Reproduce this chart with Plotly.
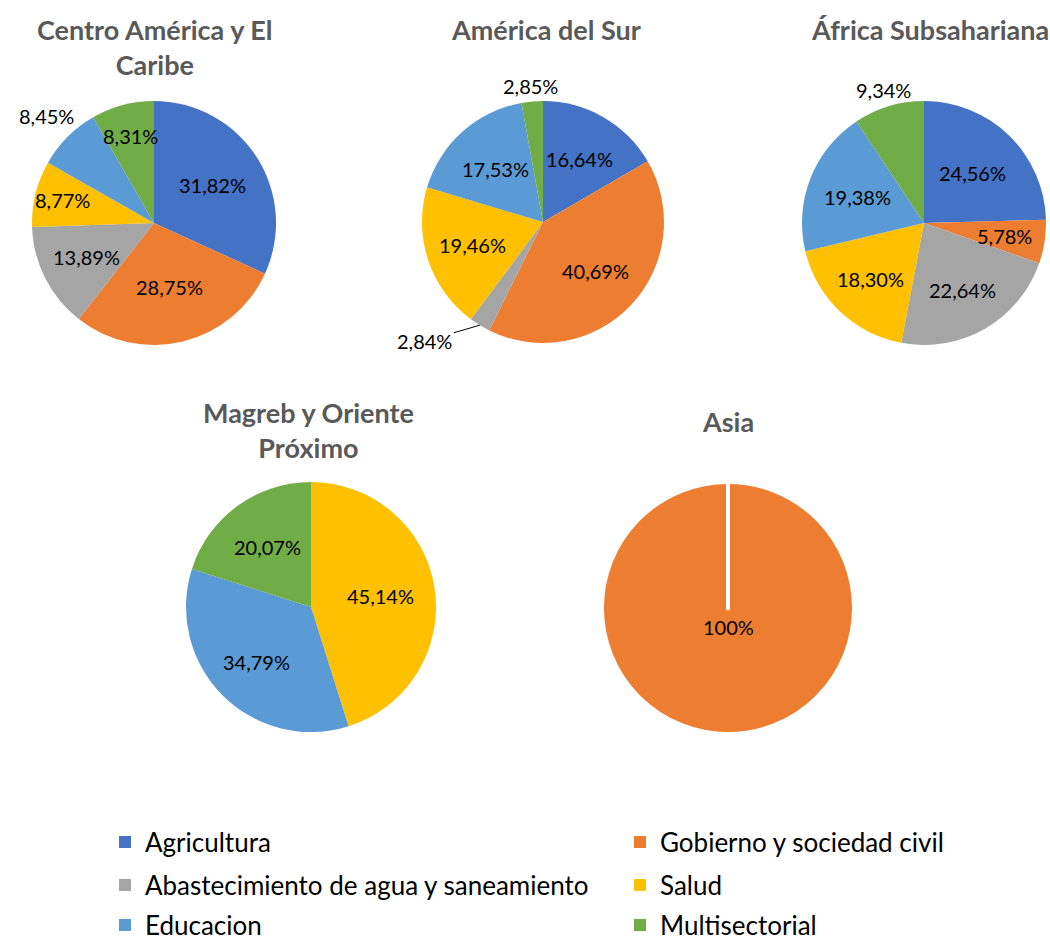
import math

import plotly.graph_objects as go

# ---- data -------------------------------------------------------------
SECTORS = [
    "Agricultura",
    "Gobierno y sociedad civil",
    "Abastecimiento de agua y saneamiento",
    "Salud",
    "Educacion",
    "Multisectorial",
]
SECTOR_COLORS = ["#4472C4", "#ED7D31", "#A5A5A5", "#FFC000", "#5B9BD5", "#70AD47"]

centro_america = [31.82, 28.75, 13.89, 8.77, 8.45, 8.31]
america_sur = [16.64, 40.69, 2.84, 19.46, 17.53, 2.85]
africa_sub = [24.56, 5.78, 22.64, 18.30, 19.38, 9.34]
magreb_sectors = ["Salud", "Educacion", "Multisectorial"]
magreb = [45.14, 34.79, 20.07]
asia = [0, 100, 0, 0, 0, 0]

REGIONS = [
    ("Centro América y El<br>Caribe", SECTORS, centro_america),
    ("América del Sur", SECTORS, america_sur),
    ("África Subsahariana", SECTORS, africa_sub),
    ("Magreb y Oriente<br>Próximo", magreb_sectors, magreb),
    ("Asia", SECTORS, asia),
]

# ---- layout (pixels) ----------------------------------------------------
W, H = 1050, 942
# pie centre x, centre y, radius
PIE_BOX = [(154, 223, 122), (543, 222, 121), (924, 223, 122), (311, 607, 125), (728, 608, 126)]
TITLE_POS = [(155, 11), (546, 11), (930, 11), (308, 394), (728, 403)]
# radial position of each data label as a fraction of the radius (None = leader line)
LABEL_R = [
    [0.57, 0.54, 0.62, 0.77, 1.24, 0.74],
    [0.60, 0.59, None, 0.61, 0.59, 1.13],
    [0.57, 0.67, 0.63, 0.63, 0.59, 1.14],
    [0.56, 0.62, 0.59],
    [0, 0.15, 0, 0, 0, 0],
]
# legend entry positions: left edge of the legend box, row centre
LEGEND_POS = [(105, 842), (620, 842), (105, 885), (620, 885), (105, 925), (620, 925)]
LABEL_FONT = dict(family="Lato", size=20, color="#000000")
TITLE_FONT = dict(family="Lato", size=27, color="#595959")
LEGEND_FONT = dict(family="Lato", size=26, color="#000000")
COLOR_OF = dict(zip(SECTORS, SECTOR_COLORS))


def px_to_paper(x, y):
    return x / W, 1 - y / H


def fmt_pct(v):
    if v == 100:
        return "100%"
    return f"{v:.2f}".replace(".", ",") + "%"


fig = go.Figure()
annotations = []

for k, (title, labels, values) in enumerate(REGIONS):
    cx, cy, r = PIE_BOX[k]
    x0, y0 = px_to_paper(cx - r, cy + r)
    x1, y1 = px_to_paper(cx + r, cy - r)
    fig.add_trace(go.Pie(
        labels=labels,
        values=values,
        sort=False,
        direction="clockwise",
        rotation=0,
        textinfo="none",
        hoverinfo="label+percent",
        showlegend=False,
        marker=dict(
            colors=[COLOR_OF[s] for s in labels],
            line=dict(color="white", width=4 if k == 4 else 0),
        ),
        domain=dict(x=[x0, x1], y=[y0, y1]),
    ))

    tx, ty = px_to_paper(*TITLE_POS[k])
    annotations.append(dict(
        x=tx, y=ty, xref="paper", yref="paper", xanchor="center", yanchor="top",
        text=f"<b>{title}</b>", showarrow=False, font=TITLE_FONT,
    ))

    # data labels placed at the slice mid-angle
    total = sum(values)
    cum = 0
    for i, v in enumerate(values):
        mid = math.radians((cum + v / 2) / total * 360)
        cum += v
        if v == 0:
            continue
        f = LABEL_R[k][i]
        if f is None:
            ex, ey = px_to_paper(cx + r * math.sin(mid), cy - r * math.cos(mid))
            annotations.append(dict(
                x=ex, y=ey, xref="paper", yref="paper", text=fmt_pct(v),
                showarrow=True, arrowhead=0, arrowwidth=1, arrowcolor="#000000",
                ax=-55, ay=16, font=LABEL_FONT,
            ))
            continue
        lx, ly = px_to_paper(cx + f * r * math.sin(mid), cy - f * r * math.cos(mid))
        annotations.append(dict(
            x=lx, y=ly, xref="paper", yref="paper", xanchor="center", yanchor="middle",
            text=fmt_pct(v), showarrow=False, font=LABEL_FONT,
        ))

# legend: one legend box per entry so the two-column grid can be placed exactly
legend_layout = {}
for j, sector in enumerate(SECTORS):
    lid = "legend" if j == 0 else f"legend{j + 1}"
    fig.add_trace(go.Pie(
        labels=[sector],
        values=[1],
        textinfo="none",
        hoverinfo="skip",
        marker=dict(colors=[COLOR_OF[sector]]),
        domain=dict(x=[0, 0.000001], y=[0, 0.000001]),
        legend=lid,
    ))
    lx, ly = px_to_paper(*LEGEND_POS[j])
    legend_layout[lid] = dict(
        x=lx, y=ly, xanchor="left", yanchor="middle",
        font=LEGEND_FONT,
        bgcolor="rgba(0,0,0,0)",
        itemclick=False, itemdoubleclick=False,
    )

fig.update_layout(
    width=W,
    height=H,
    margin=dict(l=0, r=0, t=0, b=0, autoexpand=False),
    paper_bgcolor="white",
    plot_bgcolor="white",
    annotations=annotations,
    **legend_layout,
)

fig.write_html(
    "out.html",
    config={"displayModeBar": False},
    post_script="document.body.style.margin = '0';",
)
